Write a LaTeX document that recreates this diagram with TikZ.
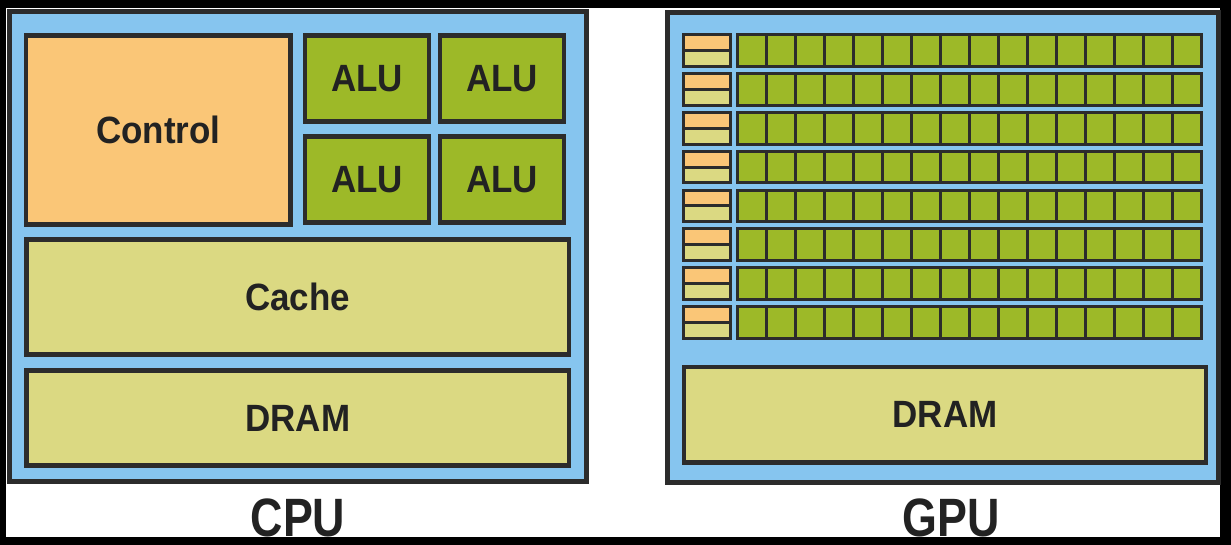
\documentclass[tikz,border=0pt]{standalone}
\usepackage{fontspec}
\setmainfont{Liberation Sans}
\definecolor{panelblue}{HTML}{86C5EF}
\definecolor{ctrlorange}{HTML}{FAC677}
\definecolor{cacheolive}{HTML}{DBD982}
\definecolor{alugreen}{HTML}{9DB928}
\definecolor{edge}{HTML}{2C2C2C}
\definecolor{ink}{HTML}{222222}
\newcommand\boxtext[2][.92]{\scalebox{#1}[1]{#2}}

\begin{document}
\begin{tikzpicture}[x=1pt,y=-1pt,
	unit/.style={draw=edge,line width=4.5pt,inner sep=0pt,outer sep=0pt,text=ink,
		font=\fontsize{38}{40}\selectfont\bfseries},
	panel/.style={draw=edge,line width=5pt,fill=panelblue},
	core/.style={draw=edge,line width=3pt,fill=alugreen},
	title/.style={anchor=base,text=ink,font=\fontsize{54}{56}\selectfont\bfseries}]
	\useasboundingbox (0,0) rectangle (1231,545);
	\fill[black](0,0) rectangle (1231,545);
	\fill[white](6,8) rectangle (1220,537);
	% CPU
	\draw[panel](9.5,11.5) rectangle (586,481.5);
	\node[unit,fill=ctrlorange,minimum width=264.5,minimum height=189] (control) at (158.25,130) {\boxtext{Control}};
	\node[unit,fill=alugreen,minimum width=124,minimum height=86] (alu1) at (367,78.5) {\boxtext{ALU}};
	\node[unit,fill=alugreen,minimum width=124,minimum height=86] (alu2) at (502,78.5) {\boxtext{ALU}};
	\node[unit,fill=alugreen,minimum width=124,minimum height=86] (alu3) at (367,179.5) {\boxtext{ALU}};
	\node[unit,fill=alugreen,minimum width=124,minimum height=86] (alu4) at (502,179.5) {\boxtext{ALU}};
	\node[unit,fill=cacheolive,minimum width=542.5,minimum height=115] (cache) at (297.75,297) {\boxtext{Cache}};
	\node[unit,fill=cacheolive,minimum width=542.5,minimum height=95] (cpudram) at (297.75,418) {\boxtext{DRAM}};
	\node[title] (cpulbl) at (298,536) {\boxtext[.83]{CPU}};
	% GPU
	\draw[panel](667,12.5) rectangle (1218.5,482.5);
	\foreach \r in {0,...,7}{
		\pgfmathsetmacro\top{35+38.8*\r}
		\fill[ctrlorange](683.5,\top) rectangle (730,\top+15.75);
		\fill[cacheolive](683.5,\top+15.75) rectangle (730,\top+31.5);
		\draw[edge,line width=3pt](683.5,\top) rectangle (730,\top+31.5);
		\draw[edge,line width=3pt](683.5,\top+15.75) -- (730,\top+15.75);
		\foreach \c in {0,...,15}
			\draw[core](737.5+29*\c,\top) rectangle +(29,31.5);
	}
	\node[unit,fill=cacheolive,minimum width=522,minimum height=95.5] (gpudram) at (945,414.75) {\boxtext{DRAM}};
	\node[title] (gpulbl) at (951,536) {\boxtext[.83]{GPU}};
\end{tikzpicture}
\end{document}
